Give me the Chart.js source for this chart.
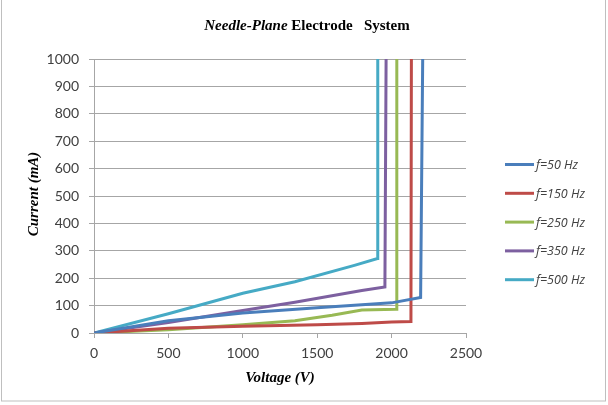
<!DOCTYPE html>
<html>
<head>
<meta charset="utf-8">
<script src="https://cdn.jsdelivr.net/npm/chart.js@4"></script>
<style>
html,body{margin:0;padding:0;background:#fff;}
#wrap{width:608px;height:405px;position:relative;}
</style>
</head>
<body>
<div id="wrap"><canvas id="c" width="608" height="405"></canvas></div>
<script>
// Data
const seriesNames = ['f=50 Hz', 'f=150 Hz', 'f=250 Hz', 'f=350 Hz', 'f=500 Hz'];
const seriesColors = ['#4a7ebb', '#be4b48', '#98b954', '#7d60a0', '#46aac5'];

const volt50  = [0, 500, 1000, 1500, 1800, 2000, 2195, 2209];
const curr50  = [0, 45, 73, 92, 103, 110, 130, 1000];
const volt150 = [0, 500, 1000, 1500, 1800, 2000, 2130, 2133];
const curr150 = [0, 17, 25, 30, 35, 40, 42, 1000];
const volt250 = [0, 500, 1000, 1350, 1600, 1800, 2030, 2035];
const curr250 = [0, 12, 30, 45, 65, 84, 87, 1000];
const volt350 = [0, 500, 1000, 1350, 1800, 1955, 1963];
const curr350 = [0, 38, 82, 112, 155, 168, 1000];
const volt500 = [0, 500, 1000, 1350, 1750, 1905, 1907];
const curr500 = [0, 70, 145, 187, 247, 272, 1000];

const xTicks = [0, 500, 1000, 1500, 2000, 2500];
const yTicks = [0, 100, 200, 300, 400, 500, 600, 700, 800, 900, 1000];

const voltSets = [volt50, volt150, volt250, volt350, volt500];
const currSets = [curr50, curr150, curr250, curr350, curr500];

const datasets = seriesNames.map((name, k) => ({
  label: name,
  data: voltSets[k].map((v, j) => ({x: v, y: currSets[k][j]})),
  borderColor: seriesColors[k],
  backgroundColor: seriesColors[k],
  borderWidth: 3,
  pointRadius: 0,
  tension: 0,
  fill: false
}));

const deco = {
  id: 'deco',
  afterDraw(chart) {
    const ctx = chart.ctx;
    ctx.save();
    // outer border
    ctx.strokeStyle = '#bfbfbf';
    ctx.lineWidth = 1;
    ctx.strokeRect(1.5, -1, 604, 402);
    // title
    ctx.fillStyle = '#000';
    ctx.textBaseline = 'middle';
    const f1 = 'italic bold 15px "Liberation Serif"';
    const f2 = 'bold 15px "Liberation Serif"';
    const t1 = 'Needle-Plane', t2 = ' Electrode   System';
    ctx.font = f1; const w1 = ctx.measureText(t1).width;
    ctx.font = f2; const w2 = ctx.measureText(t2).width;
    let x0 = 307 - (w1 + w2) / 2;
    ctx.textAlign = 'left';
    ctx.font = f1; ctx.fillText(t1, x0, 26);
    ctx.font = f2; ctx.fillText(t2, x0 + w1, 26);
    // axis titles
    ctx.font = 'italic bold 15px "Liberation Serif"';
    ctx.textAlign = 'center';
    ctx.fillText('Voltage (V)', 280, 378);
    ctx.save();
    ctx.translate(34, 194);
    ctx.rotate(-Math.PI / 2);
    ctx.fillText('Current (mA)', 0, 0);
    ctx.restore();
    // legend
    ctx.font = 'italic 12.5px "Open Sans"';
    ctx.textAlign = 'left';
    ctx.fillStyle = '#404040';
    seriesNames.forEach((n, k) => {
      const y = 164.5 + k * 28.8;
      ctx.strokeStyle = seriesColors[k];
      ctx.lineWidth = 3;
      ctx.beginPath();
      ctx.moveTo(505, y);
      ctx.lineTo(534, y);
      ctx.stroke();
      ctx.fillText(n, 536, y + 1);
    });
    ctx.restore();
  }
};

new Chart(document.getElementById('c'), {
  type: 'line',
  data: { datasets },
  options: {
    responsive: false,
    animation: false,
    devicePixelRatio: 1,
    layout: { padding: { left: 0, right: 142, top: 59, bottom: 0 } },
    plugins: { legend: { display: false }, title: { display: false }, tooltip: { enabled: false } },
    scales: {
      x: {
        type: 'linear',
        min: 0, max: 2500,
        afterBuildTicks(s) { s.ticks = xTicks.map(v => ({value: v})); },
        afterFit(s) { s.height = 72; },
        grid: { display: true, drawOnChartArea: false, drawTicks: true, tickLength: 5, color: '#a6a6a6' },
        border: { display: true, color: '#a6a6a6', width: 1 },
        ticks: { font: { family: 'Lato', size: 14 }, color: '#404040', padding: 7, maxRotation: 0, autoSkip: false,
                 callback: v => String(v) }
      },
      y: {
        type: 'linear',
        min: 0, max: 1000,
        afterBuildTicks(s) { s.ticks = yTicks.map(v => ({value: v})); },
        afterFit(s) { s.width = 94; },
        grid: { display: true, color: '#a6a6a6', lineWidth: 1, drawTicks: true, tickLength: 5 },
        border: { display: true, color: '#a6a6a6', width: 1 },
        ticks: { font: { family: 'Lato', size: 14 }, color: '#404040', padding: 10, autoSkip: false,
                 callback: v => String(v) }
      }
    }
  },
  plugins: [deco]
});
</script>
</body>
</html>
